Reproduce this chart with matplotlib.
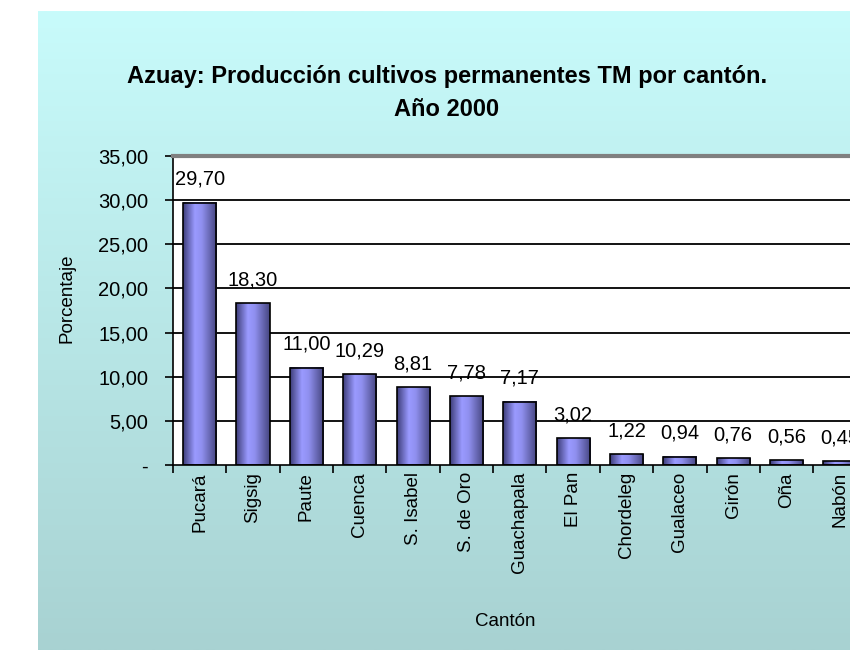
import numpy as np
import matplotlib
matplotlib.use("Agg")
import matplotlib.pyplot as plt
from matplotlib.colors import LinearSegmentedColormap

categories = ["Pucará", "Sigsig", "Paute", "Cuenca", "S. Isabel", "S. de Oro",
              "Guachapala", "El Pan", "Chordeleg", "Gualaceo", "Girón", "Oña", "Nabón"]
values = [29.70, 18.30, 11.00, 10.29, 8.81, 7.78, 7.17, 3.02, 1.22, 0.94, 0.76, 0.56, 0.45]
yticks = [0, 5, 10, 15, 20, 25, 30, 35]
ytick_labels = ["-", "5,00", "10,00", "15,00", "20,00", "25,00", "30,00", "35,00"]
title = "Azuay: Producción cultivos permanentes TM por cantón.\nAño 2000"

plt.rcParams['font.family'] = ['Liberation Sans', 'DejaVu Sans']

W, H = 850, 650
fig = plt.figure(figsize=(W/100, H/100), dpi=100)
fig.patch.set_facecolor('white')

# background box with vertical gradient
bg = fig.add_axes([38/W, 0, (W-38)/W, (H-11)/H])
bg.set_axis_off()
grad_bg = LinearSegmentedColormap.from_list('bg', ['#c8fbfb', '#a8d2d2'])
bg.imshow(np.linspace(0, 1, 256).reshape(-1, 1), aspect='auto', cmap=grad_bg,
          extent=[0, 1, 0, 1], origin='upper')
bg.set_xlim(0, 1); bg.set_ylim(0, 1)

fig.text(447/W, 1 - 93/H, title, ha='center', va='center', fontsize=17,
         fontweight='bold', linespacing=1.6)

left, right_px, top, bottom = 173, 173 + 13*53.35, 156, 465
ax = fig.add_axes([left/W, (H-bottom)/H, (right_px-left)/W, (bottom-top)/H])
ax.set_facecolor('white')

for y in yticks[1:-1]:
    ax.axhline(y, color='black', lw=1.3, zorder=1)

bar_cmap = LinearSegmentedColormap.from_list('bar', [(0, '#3c3c78'), (0.35, '#9a9aff'),
                                                     (0.55, '#9090f0'), (1, '#45457f')])
grad = np.linspace(0, 1, 256).reshape(1, -1)
bw = 0.62
x = np.arange(len(categories))
bars = ax.bar(x, values, width=bw, color='none', edgecolor='black', lw=1.2, zorder=3)
for b in bars:
    bx, by, bwid, bh = b.get_x(), b.get_y(), b.get_width(), b.get_height()
    ax.imshow(grad, aspect='auto', cmap=bar_cmap, extent=[bx, bx+bwid, by, by+bh],
              zorder=2, interpolation='bilinear')
ax.set_xlim(-0.5, len(categories) - 0.5)
ax.set_ylim(0, 35)

for xi, v in zip(x, values):
    ax.annotate(f"{v:.2f}".replace('.', ','), (xi, v), xytext=(0, 10), textcoords='offset points',
                ha='center', va='bottom', fontsize=14.5, zorder=4)

ax.set_yticks(yticks)
ax.set_yticklabels(ytick_labels, fontsize=14.5)
ax.set_xticks(np.arange(len(categories) + 1) - 0.5, minor=False)
ax.set_xticklabels([])
ax.tick_params(axis='x', length=6, width=1.2, direction='out', color='black')
ax.tick_params(axis='y', length=6, width=1.2, direction='out', color='black', pad=12)
for xi, c in zip(x, categories):
    ax.text(xi, -0.8, c, rotation=90, ha='center', va='top', fontsize=13.5)

ax.spines['top'].set_color('#808080')
ax.spines['top'].set_linewidth(3)
ax.spines['right'].set_visible(False)
ax.spines['left'].set_linewidth(1.2)
ax.spines['bottom'].set_linewidth(1.2)

fig.text(67/W, 1 - 298/H, "Porcentaje", rotation=90, ha='center', va='center', fontsize=13.5)
fig.text(505/W, 1 - 622/H, "Cantón", ha='center', va='center', fontsize=13.5)

fig.savefig("out.png", dpi=100)
